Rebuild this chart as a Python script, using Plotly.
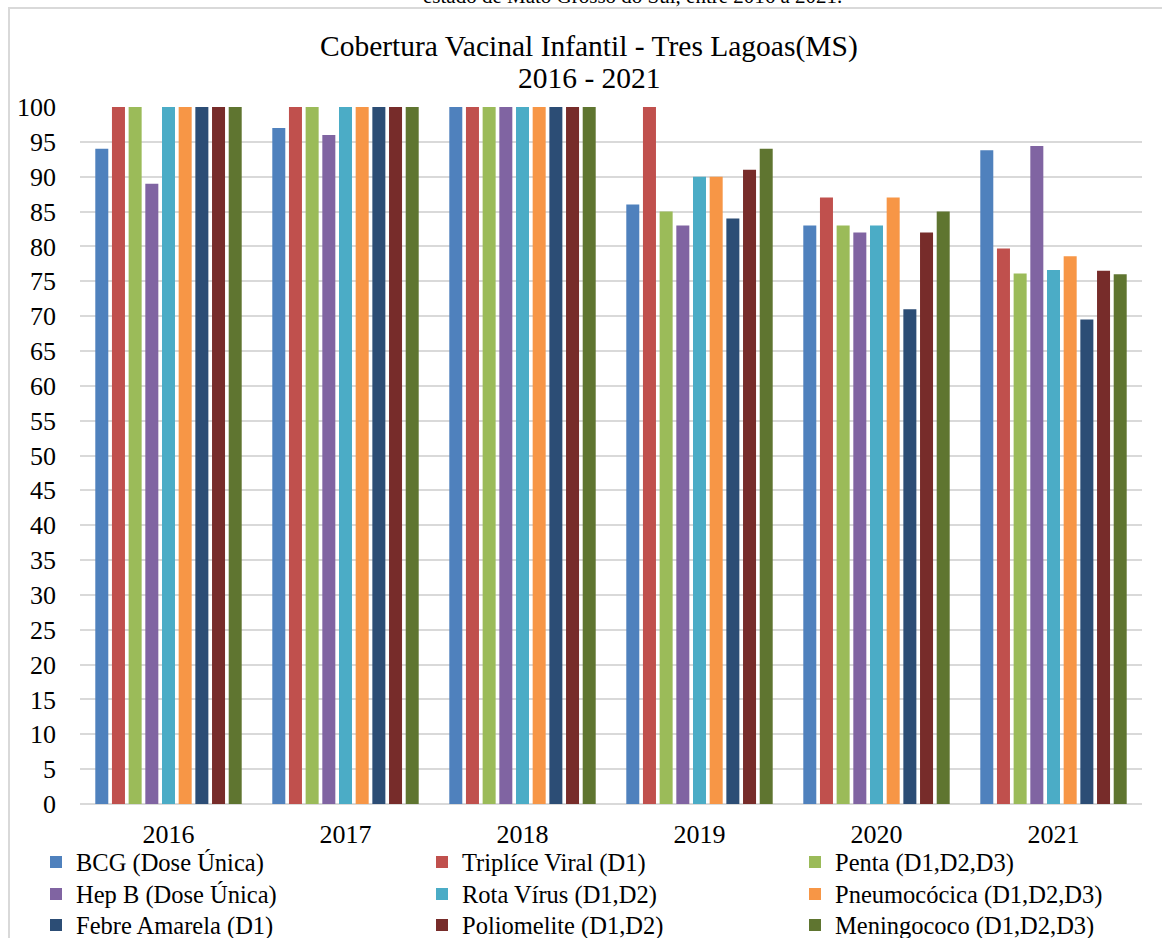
import plotly.graph_objects as go

years = ["2016", "2017", "2018", "2019", "2020", "2021"]

bcg = [94, 97, 100, 86, 83, 93.8]
triplice_viral = [100, 100, 100, 100, 87, 79.7]
penta = [100, 100, 100, 85, 83, 76.1]
hep_b = [89, 96, 100, 83, 82, 94.4]
rota_virus = [100, 100, 100, 90, 83, 76.6]
pneumococica = [100, 100, 100, 90, 87, 78.6]
febre_amarela = [100, 100, 100, 84, 71, 69.5]
poliomelite = [100, 100, 100, 91, 82, 76.5]
meningococo = [100, 100, 100, 94, 85, 76]

series_names = [
    "BCG (Dose Única)", "Triplíce Viral (D1)", "Penta (D1,D2,D3)",
    "Hep B (Dose Única)", "Rota Vírus (D1,D2)", "Pneumocócica (D1,D2,D3)",
    "Febre Amarela (D1)", "Poliomelite (D1,D2)", "Meningococo (D1,D2,D3)",
]
series_values = [
    bcg, triplice_viral, penta,
    hep_b, rota_virus, pneumococica,
    febre_amarela, poliomelite, meningococo,
]
series_colors = [
    "#4F81BD", "#C0504D", "#9BBB59",
    "#8064A2", "#4BACC6", "#F79646",
    "#2C4D75", "#772C2A", "#5F7530",
]

FONT = "Liberation Serif"
W, H = 1162, 938
L, R, T, B = 80, 20, 107, 134
PW, PH = W - L - R, H - T - B


def px_x(p):
    return (p - L) / PW


def px_y(p):
    return 1 - (p - T) / PH


# legend laid out as a 3 x 3 grid, one small legend per entry
col_x = [36, 422, 795]
row_y = [862, 894, 925]

legend_style = dict(
    orientation="v", xanchor="left", yanchor="middle",
    xref="container", yref="container",
    font=dict(family=FONT, size=24.5, color="#000000"),
    bgcolor="rgba(0,0,0,0)", borderwidth=0, tracegroupgap=0,
    itemclick=False, itemdoubleclick=False,
)

fig = go.Figure()
legends = {}
for i, (name, vals, color) in enumerate(zip(series_names, series_values, series_colors)):
    key = "legend" if i == 0 else f"legend{i + 1}"
    fig.add_trace(go.Bar(
        x=years, y=vals, name=name, legend=key,
        marker=dict(color=color, line=dict(width=0)),
    ))
    legends[key] = dict(x=col_x[i % 3] / W, y=1 - row_y[i // 3] / H, **legend_style)

fig.update_layout(
    width=W, height=H,
    margin=dict(l=L, r=R, t=T, b=B, pad=0, autoexpand=False),
    paper_bgcolor="#FFFFFF", plot_bgcolor="#FFFFFF",
    font=dict(family=FONT, color="#000000"),
    barmode="group", bargap=0.152, bargroupgap=0.22,
    showlegend=True,
    xaxis=dict(
        type="category", showgrid=False, showline=False, ticks="",
        tickfont=dict(family=FONT, size=26, color="#000000"),
        ticklabelstandoff=12,
    ),
    yaxis=dict(
        range=[0, 100], tickmode="linear", dtick=5, tick0=0,
        showgrid=True, gridcolor="#D9D9D9", gridwidth=2,
        zeroline=True, zerolinecolor="#D9D9D9", zerolinewidth=2,
        showline=False, ticks="",
        tickfont=dict(family=FONT, size=26, color="#000000"),
        ticklabelstandoff=23,
    ),
    annotations=[
        dict(text="Cobertura Vacinal Infantil - Tres Lagoas(MS)", x=589 / W, y=1 - 47 / H,
             xref="paper", yref="paper", xanchor="center", yanchor="middle",
             showarrow=False, font=dict(family=FONT, size=29.5, color="#000000")),
        dict(text="2016 - 2021", x=589 / W, y=1 - 78 / H,
             xref="paper", yref="paper", xanchor="center", yanchor="middle",
             showarrow=False, font=dict(family=FONT, size=29.5, color="#000000")),
        dict(text="estado de Mato Grosso do Sul, entre 2016 a 2021.", x=632 / W, y=1 - (-4) / H,
             xref="paper", yref="paper", xanchor="center", yanchor="middle",
             showarrow=False, font=dict(family=FONT, size=21, color="#000000")),
    ],
    shapes=[
        dict(type="rect", xref="paper", yref="paper",
             x0=px_x(9), x1=px_x(1250), y0=px_y(1050), y1=px_y(8),
             line=dict(color="#D9D9D9", width=2), fillcolor="rgba(0,0,0,0)", layer="below"),
    ],
    **legends,
)

# annotation positions above are given as figure fractions; convert to paper space
for ann in fig.layout.annotations:
    ann.x = px_x(ann.x * W)
    ann.y = px_y((1 - ann.y) * H)

fig.write_html("out.html")
